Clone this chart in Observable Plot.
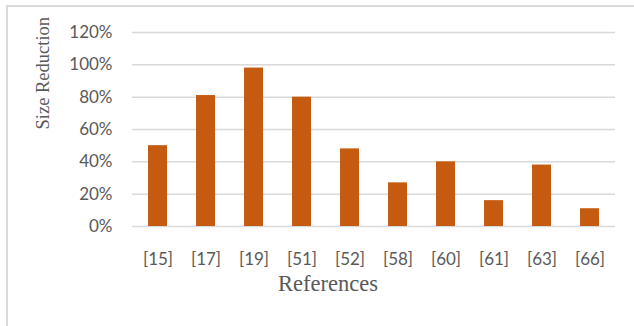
<!DOCTYPE html>
<html>
<head>
<meta charset="utf-8">
<script src="https://cdn.jsdelivr.net/npm/d3@7"></script>
<script src="https://cdn.jsdelivr.net/npm/@observablehq/plot@0.6"></script>
<style>
  html, body { margin: 0; padding: 0; background: #fff; }
  #wrap { position: relative; width: 634px; height: 326px; overflow: hidden; background: #fff; }
  #frame { position: absolute; left: 6px; top: 5px; width: 700px; height: 400px;
           border-left: 2px solid #d9d9d9; border-top: 2px solid #d9d9d9; box-sizing: border-box; }
  #chart { position: absolute; left: 0; top: 0; }
</style>
</head>
<body>
<div id="wrap"><div id="frame"></div><div id="chart"></div></div>
<script>
const categories = ["[15]", "[17]", "[19]", "[51]", "[52]", "[58]", "[60]", "[61]", "[63]", "[66]"];
const values = [0.50, 0.81, 0.98, 0.80, 0.48, 0.27, 0.40, 0.16, 0.38, 0.11];
const yTicks = [0, 0.2, 0.4, 0.6, 0.8, 1.0, 1.2];
const xTitle = "References";
const yTitle = "Size Reduction";

const data = categories.map((c, i) => ({ref: c, value: values[i]}));

const chart = Plot.plot({
  width: 634,
  height: 326,
  marginLeft: 132,
  marginRight: 19,
  marginTop: 32,
  marginBottom: 100,
  style: { background: "transparent", fontFamily: "Lato, sans-serif", color: "#595959" },
  x: { domain: categories, paddingInner: 0.6, paddingOuter: 0.3, label: null },
  y: { domain: [0, 1.2], label: null },
  marks: [
    Plot.ruleY(yTicks, { stroke: "#d9d9d9", strokeWidth: 1.5 }),
    Plot.barY(data, { x: "ref", y: "value", fill: "#c55a11" }),
    Plot.axisY({ ticks: yTicks, tickFormat: d3.format(".0%"), tickSize: 0, tickPadding: 20,
                 fontSize: 17, fill: "#595959", label: null }),
    Plot.axisX({ tickSize: 0, tickPadding: 26, fontSize: 17, fill: "#595959", label: null }),
    Plot.text([xTitle], { frameAnchor: "bottom", dx: -46, dy: 57, fontSize: 22.5,
                          fontFamily: "Liberation Serif", fill: "#595959", lineAnchor: "middle" }),
    Plot.text([yTitle], { frameAnchor: "left", dx: -89, rotate: -90, fontSize: 18.5,
                          fontFamily: "Liberation Serif", fill: "#595959", lineAnchor: "middle" })
  ]
});
document.getElementById("chart").appendChild(chart);
</script>
</body>
</html>
